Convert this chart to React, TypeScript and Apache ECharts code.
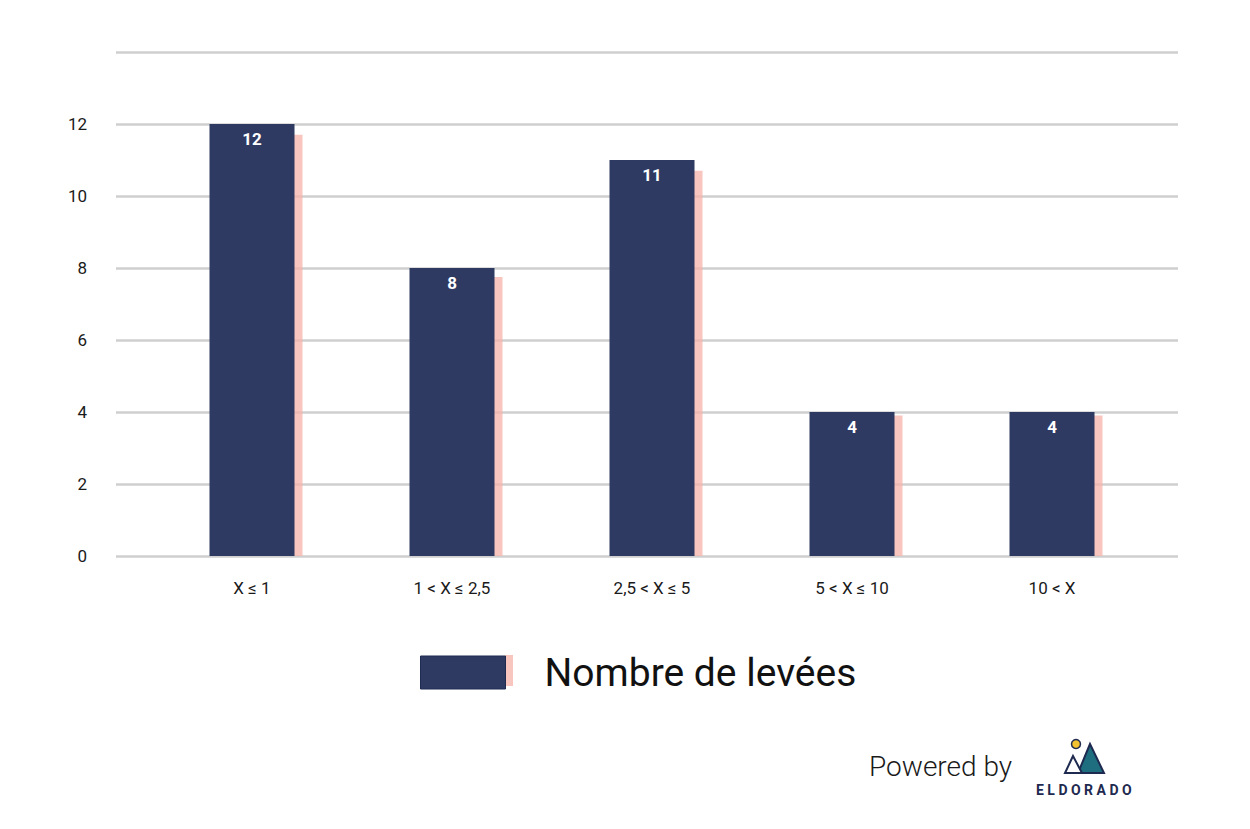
import React, { useEffect, useRef } from "react";
import * as echarts from "echarts";

const categories = ["X ≤ 1", "1 < X ≤ 2,5", "2,5 < X ≤ 5", "5 < X ≤ 10", "10 < X"];
const levees = [12, 8, 11, 4, 4];
const shadowValues = [11.7, 7.75, 10.7, 3.9, 3.9];
const yTicks = [0, 2, 4, 6, 8, 10, 12, 14];
const seriesName = "Nombre de levées";

const NAVY = "#2e3a62";
const PINK = "rgba(247,178,170,0.75)";
const FONT = "Roboto, 'Noto Sans', sans-serif";

export default function App() {
  const ref = useRef<HTMLDivElement>(null);
  useEffect(() => {
    document.body.style.margin = "0";
    const chart = echarts.init(ref.current!, undefined, { renderer: "svg" });
    const yMax = yTicks[yTicks.length - 1];
    const yCommon = { type: "value" as const, min: 0, max: yMax, interval: 2 };
    chart.setOption({
      animation: false,
      textStyle: { fontFamily: FONT },
      grid: [
        { left: 116, right: 72, top: 52, bottom: 273 },
        { left: 152, right: 98, top: 52, bottom: 273 },
        { left: 160, right: 90, top: 52, bottom: 273 },
      ],
      xAxis: [
        { type: "category", gridIndex: 0, data: categories, show: false },
        {
          type: "category",
          gridIndex: 1,
          data: categories,
          axisLine: { show: false },
          axisTick: { show: false },
          axisLabel: { color: "#1a1a1a", fontSize: 17, margin: 23, fontFamily: FONT },
        },
        { type: "category", gridIndex: 2, data: categories, show: false },
      ],
      yAxis: [
        {
          ...yCommon,
          gridIndex: 0,
          axisLine: { show: false },
          axisTick: { show: false },
          axisLabel: {
            color: "#1a1a1a",
            fontSize: 17,
            margin: 29,
            fontFamily: FONT,
            formatter: (v: number) => (v === yMax ? "" : String(v)),
          },
          splitLine: { lineStyle: { color: "#cfcfcf", width: 2.5 } },
        },
        { ...yCommon, gridIndex: 1, show: false, splitLine: { show: false } },
        { ...yCommon, gridIndex: 2, show: false, splitLine: { show: false } },
      ],
      legend: {
        data: [seriesName],
        icon: "rect",
        left: 420,
        top: 653,
        padding: 0,
        itemWidth: 85,
        itemHeight: 33,
        itemGap: 10,
        textStyle: { fontSize: 39, color: "#111", fontFamily: FONT, padding: [0, 0, 0, 34] },
        itemStyle: { borderColor: "#1e2a50", borderWidth: 1 },
      },
      series: [
        {
          name: "ombre",
          type: "bar",
          xAxisIndex: 2,
          yAxisIndex: 2,
          data: shadowValues,
          barWidth: 85,
          z: 1,
          itemStyle: { color: PINK },
          silent: true,
        },
        {
          name: seriesName,
          type: "bar",
          xAxisIndex: 1,
          yAxisIndex: 1,
          data: levees,
          barWidth: 85,
          z: 3,
          itemStyle: { color: NAVY },
          label: {
            show: true,
            position: "insideTop",
            distance: 6,
            color: "#fff",
            fontWeight: "bold",
            fontSize: 17,
            fontFamily: FONT,
          },
        },
      ],
      graphic: [
        { type: "rect", left: 505, top: 655, shape: { width: 8, height: 31 }, style: { fill: PINK } },
        {
          type: "text",
          left: 869,
          top: 752,
          style: { text: "Powered by", fontSize: 28, fontWeight: 300, fill: "#1a1a1a", fontFamily: FONT },
        },
        {
          type: "polygon",
          shape: { points: [[1090, 744], [1078, 773], [1104, 773]] },
          style: { fill: "#1e6e80", stroke: "#1e2a50", lineWidth: 2 },
        },
        {
          type: "polygon",
          shape: { points: [[1073, 756], [1065, 773], [1082, 773]] },
          style: { fill: "#ffffff", stroke: "#1e2a50", lineWidth: 2 },
        },
        {
          type: "circle",
          shape: { cx: 1076, cy: 744, r: 4.5 },
          style: { fill: "#f2c230", stroke: "#1e2a50", lineWidth: 1.5 },
        },
        {
          type: "text",
          left: 1036,
          top: 783,
          style: { text: "E L D O R A D O", fontSize: 14, fontWeight: "bold", fill: "#1e2a50", fontFamily: FONT },
        },
      ],
    });
    return () => chart.dispose();
  }, []);
  return <div ref={ref} style={{ width: 1250, height: 829 }} />;
}
